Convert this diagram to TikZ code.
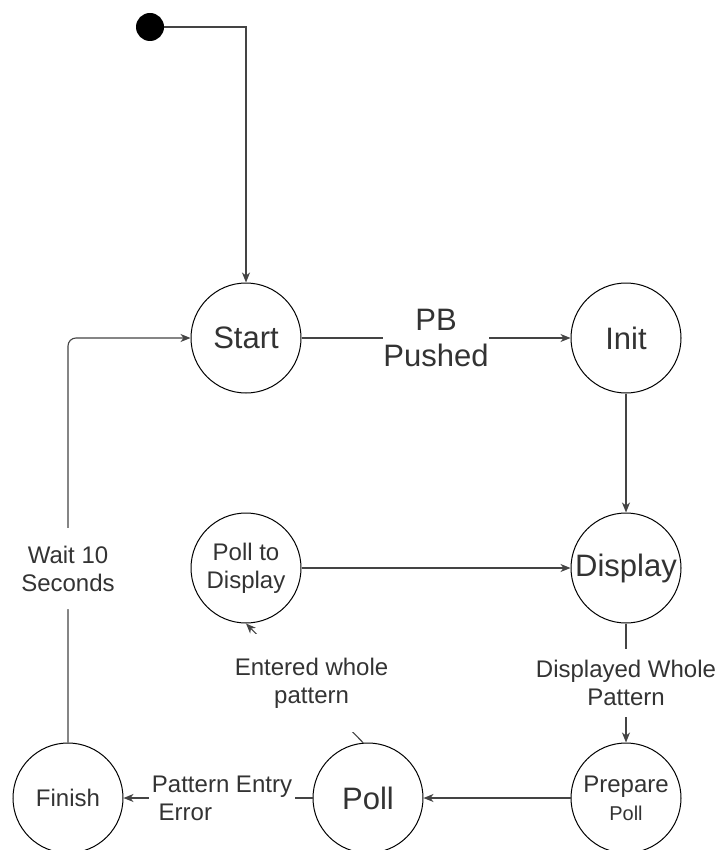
\documentclass[tikz,border=0pt]{standalone}
\usepackage{fontspec}
\setmainfont{Liberation Sans}
\usetikzlibrary{arrows.meta}
\definecolor{txt}{HTML}{333333}
\definecolor{ln}{HTML}{444444}
\begin{document}
\begin{tikzpicture}[x=1pt,y=-1pt,
  state/.style={circle,draw=black,line width=1pt,minimum size=110pt,inner sep=0pt,align=center,text=txt},
  big/.style={font=\fontsize{31}{36}\selectfont},
  small/.style={font=\fontsize{24}{28}\selectfont},
  conn/.style={draw=ln,line width=1.1pt,-{Stealth[length=10pt,width=8pt,inset=3pt]}},
  lbl/.style={fill=white,text=txt,align=center,inner sep=0pt,font=\fontsize{24}{28}\selectfont}]
\useasboundingbox (0,0) rectangle (717,850);
\node[circle,fill=black,minimum size=28pt,inner sep=0pt] (dot) at (150,27) {};
\node[state,big] (start) at (246,338) {Start};
\node[state,big] (init) at (626,338) {Init};
\node[state,big] (disp) at (626,568) {Display};
\node[state,small] (ptd) at (246,568) {Poll to\\Display};
\node[state,small] (prep) at (626,798) {Prepare\\{\fontsize{20}{24}\selectfont Poll}};
\node[state,big] (poll) at (368,798) {Poll};
\node[state,small] (fin) at (68,798) {Finish};

\draw[conn] (dot) -- (dot -| start) -- (start);
\draw[conn] (start) -- node[lbl,font=\fontsize{31}{36}\selectfont] {PB\\Pushed} (init);
\draw[conn] (init) -- (disp);
\draw[conn] (ptd) -- (disp);
\draw[conn] (disp) -- node[lbl,minimum height=68pt] {Displayed Whole\\Pattern} (prep);
\draw[conn] (prep) -- (poll);
\draw[conn] (poll) -- node[lbl,align=left,inner xsep=3pt,xshift=4pt] {Pattern Entry\\\hspace*{6.7pt}Error} (fin);
\draw[conn,rounded corners=8pt] (fin) -- node[lbl,pos=0.43,minimum height=81pt] {Wait 10\\Seconds} (fin |- start) -- (start);
\draw[conn] (poll.95) -- node[lbl,minimum height=98pt,minimum width=160pt,xshift=7pt] {Entered whole\\pattern} (ptd.270);
\end{tikzpicture}
\end{document}
